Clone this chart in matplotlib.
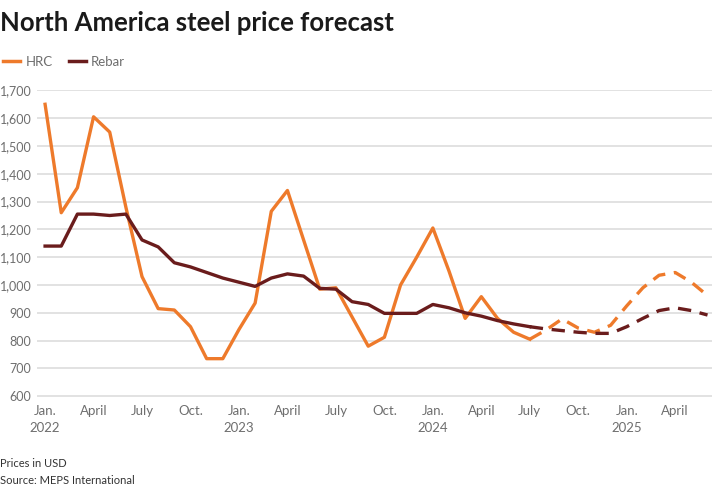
import matplotlib.pyplot as plt
import numpy as np

# monthly values, Jan 2022 .. Jul 2024 (actual) and Jul 2024 .. Jun 2025 (forecast)
hrc_actual = [1650, 1260, 1350, 1605, 1550, 1280, 1030, 915, 910, 850, 735, 735,
              840, 935, 1265, 1340, 1162, 985, 990, 885, 780, 812, 1000, 1100,
              1205, 1050, 880, 958, 880, 830, 805]
rebar_actual = [1140, 1140, 1255, 1255, 1250, 1255, 1162, 1137, 1080, 1065, 1045, 1025,
                1010, 995, 1025, 1040, 1032, 988, 985, 940, 930, 898, 898, 898,
                930, 918, 900, 888, 872, 860, 850]
hrc_forecast = [805, 838, 878, 845, 830, 855, 925, 990, 1035, 1045, 1010, 962]
rebar_forecast = [850, 842, 836, 830, 826, 826, 850, 880, 908, 918, 908, 892]

tick_pos = [0, 3, 6, 9, 12, 15, 18, 21, 24, 27, 30, 33, 36, 39]
tick_labels = ["Jan.\n2022", "April", "July", "Oct.", "Jan.\n2023", "April", "July", "Oct.",
               "Jan.\n2024", "April", "July", "Oct.", "Jan.\n2025", "April"]
y_ticks = [600, 700, 800, 900, 1000, 1100, 1200, 1300, 1400, 1500, 1600, 1700]

orange = "#ee7a2b"
maroon = "#6a1c1c"
grey = "#6e6e6e"

plt.rcParams["font.family"] = ["Lato", "DejaVu Sans"]

fig = plt.figure(figsize=(7.2, 4.92), dpi=100)
ax = fig.add_axes([0.0514, 0.193, 0.938, 0.625])

x_act = np.arange(len(hrc_actual))
x_fc = np.arange(len(hrc_actual) - 1, len(hrc_actual) - 1 + len(hrc_forecast))

ax.plot(x_act, hrc_actual, color=orange, lw=2.4, zorder=3)
ax.plot(x_act, rebar_actual, color=maroon, lw=2.4, zorder=3)
ax.plot(x_fc, hrc_forecast, color=orange, lw=2.4, dashes=(4, 2.6), zorder=3)
ax.plot(x_fc, rebar_forecast, color=maroon, lw=2.4, dashes=(4, 2.6), zorder=3)

ax.set_xlim(-0.5, 41.3)
ax.set_ylim(597, 1703)
ax.set_yticks(y_ticks)
ax.set_yticklabels([f"{v:,}" for v in y_ticks])
ax.set_xticks(tick_pos)
ax.set_xticklabels(tick_labels, linespacing=1.5)
ax.grid(axis="y", color="#dddddd", lw=1.2)
ax.set_axisbelow(True)
for s in ax.spines.values():
    s.set_visible(False)
ax.tick_params(length=0, labelsize=9.5, labelcolor=grey)
ax.tick_params(axis="y", pad=4, labelsize=9)
ax.tick_params(axis="x", pad=6)

fig.text(0.0, 0.953, "North America steel price forecast", fontsize=18.5,
         fontweight="bold", color="#1a1a1a", va="center", ha="left")

handles = [plt.Line2D([], [], color=orange, lw=2.5),
           plt.Line2D([], [], color=maroon, lw=2.5)]
leg = fig.legend(handles, ["HRC", "Rebar"], loc="center left", bbox_to_anchor=(-0.012, 0.875),
                 ncol=2, frameon=False, handlelength=1.3, handletextpad=0.4,
                 columnspacing=1.2, fontsize=9.5)
for t in leg.get_texts():
    t.set_color(grey)

fig.text(0.0, 0.058, "Prices in USD", fontsize=8, color="#333333", va="center")
fig.text(0.0, 0.024, "Source: MEPS International", fontsize=8, color="#333333", va="center")

fig.savefig("out.png", dpi=100)
